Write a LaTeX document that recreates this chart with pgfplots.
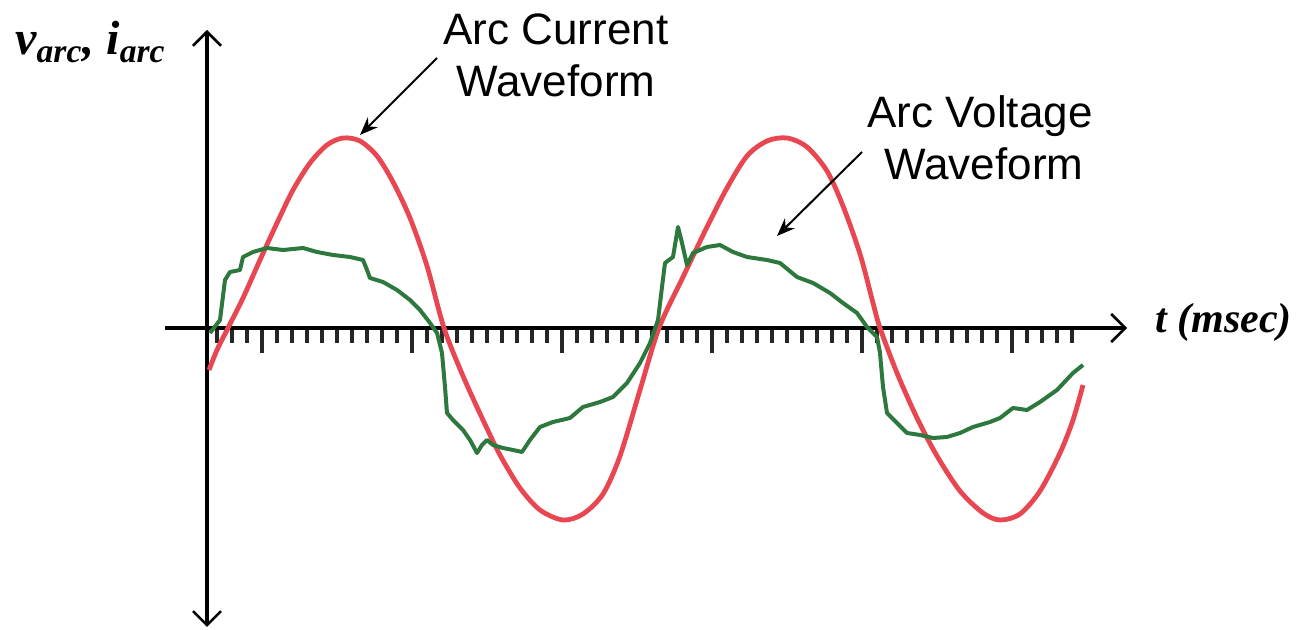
\documentclass[border=0pt]{standalone}
\usepackage{fontspec}
\setmainfont{Liberation Serif}
\newfontfamily\arial{Liberation Sans}
\usepackage{pgfplots}
\pgfplotsset{compat=1.18}
\usetikzlibrary{arrows.meta}
\definecolor{arcred}{RGB}{232,70,80}
\definecolor{arcgreen}{RGB}{45,120,60}
\tikzset{barb/.tip={Straight Barb[length=7pt,width=14pt,line width=1.3pt]}}
\begin{document}
\begin{tikzpicture}
\path[use as bounding box] (-103.5pt,-151pt) rectangle (546pt,164pt);
\begin{axis}[
  at={(0pt,0pt)}, anchor=origin,
  x=0.5pt, y=0.5pt,
  xmin=-42, xmax=920, ymin=-299, ymax=298,
  axis lines=middle,
  axis line style={line width=1.7pt, black},
  x axis line style={-barb},
  y axis line style={barb-barb},
  ytick=\empty,
  xtick={55,205,...,805},
  minor xtick={10,25,...,865},
  xticklabels={},
  tick align=outside,
  major tick length=12.5pt,
  minor tick length=7.5pt,
  tick style={line width=2pt, black!85},
  clip=false,
]
\addplot[arcred, line width=2.4pt, smooth, line join=round] coordinates {
(2,-42) (10,-22) (21,0) (36,30) (53,68) (70,105) (86,138) (103,165) (120,183)
(136,190) (153,187) (170,172) (186,146) (203,110) (220,62) (237,0) (256,-48)
(276,-92) (293,-127) (313,-160) (333,-182) (356,-192) (376,-186) (396,-166)
(413,-128) (433,-62) (452,0) (476,51) (500,101) (520,140) (540,172) (560,187)
(580,190) (600,181) (620,157) (636,122) (653,74) (666,25) (673,0) (690,-45)
(710,-90) (730,-128) (753,-163) (776,-185) (793,-192) (813,-186) (833,-163)
(853,-125) (866,-92) (876,-57)
};
\addplot[arcgreen, line width=2pt, line join=round] coordinates {
(3,-5) (13,8) (18,48) (23,56) (33,58) (36,71) (46,76) (60,80) (76,78) (96,80)
(110,76) (126,73) (143,71) (156,68) (160,58) (163,50) (176,46) (190,38) (203,28)
(213,18) (223,5) (230,-5) (235,-25) (238,-59) (240,-85) (246,-92) (256,-102)
(263,-112) (270,-125) (275,-117) (280,-112) (286,-117) (296,-120) (306,-122)
(315,-124) (323,-112) (333,-99) (346,-94) (363,-90) (376,-79) (393,-74)
(406,-69) (420,-55) (433,-35) (443,-15) (451,8) (455,41) (458,65) (466,71)
(471,101) (475,85) (480,63) (486,75) (500,81) (513,83) (526,76) (540,71)
(560,68) (573,65) (590,51) (606,45) (623,35) (636,25) (650,15) (660,1)
(670,-9) (673,-25) (676,-59) (680,-85) (690,-95) (700,-105) (713,-107)
(726,-110) (740,-109) (753,-105) (766,-99) (783,-94) (793,-90) (806,-80)
(820,-82) (833,-74) (850,-62) (866,-45) (876,-37)
};
\node[anchor=base, font=\arial\fontsize{22pt}{26pt}\selectfont] at (axis cs:349,283) {Arc Current};
\node[anchor=base, font=\arial\fontsize{22pt}{26pt}\selectfont] at (axis cs:349,231) {Waveform};
\node[anchor=base, font=\arial\fontsize{22pt}{26pt}\selectfont] at (axis cs:773,200) {Arc Voltage};
\node[anchor=base, font=\arial\fontsize{22pt}{26pt}\selectfont] at (axis cs:777,148) {Waveform};
\draw[line width=1pt, -{Stealth[length=9pt,width=7pt]}] (axis cs:230,270) -- (axis cs:153,193);
\draw[line width=1pt, -{Stealth[length=9pt,width=7pt]}] (axis cs:655,176) -- (axis cs:570,92);
\node[anchor=base west, inner sep=0pt, font=\fontsize{24pt}{29pt}\selectfont\bfseries\itshape] at (axis cs:-192,273) {v\textsubscript{arc}, i\textsubscript{arc}};
\node[anchor=base west, inner sep=0pt, font=\fontsize{21pt}{25pt}\selectfont\bfseries\itshape] at (axis cs:948,-5) {t (msec)};
\end{axis}
\end{tikzpicture}
\end{document}
